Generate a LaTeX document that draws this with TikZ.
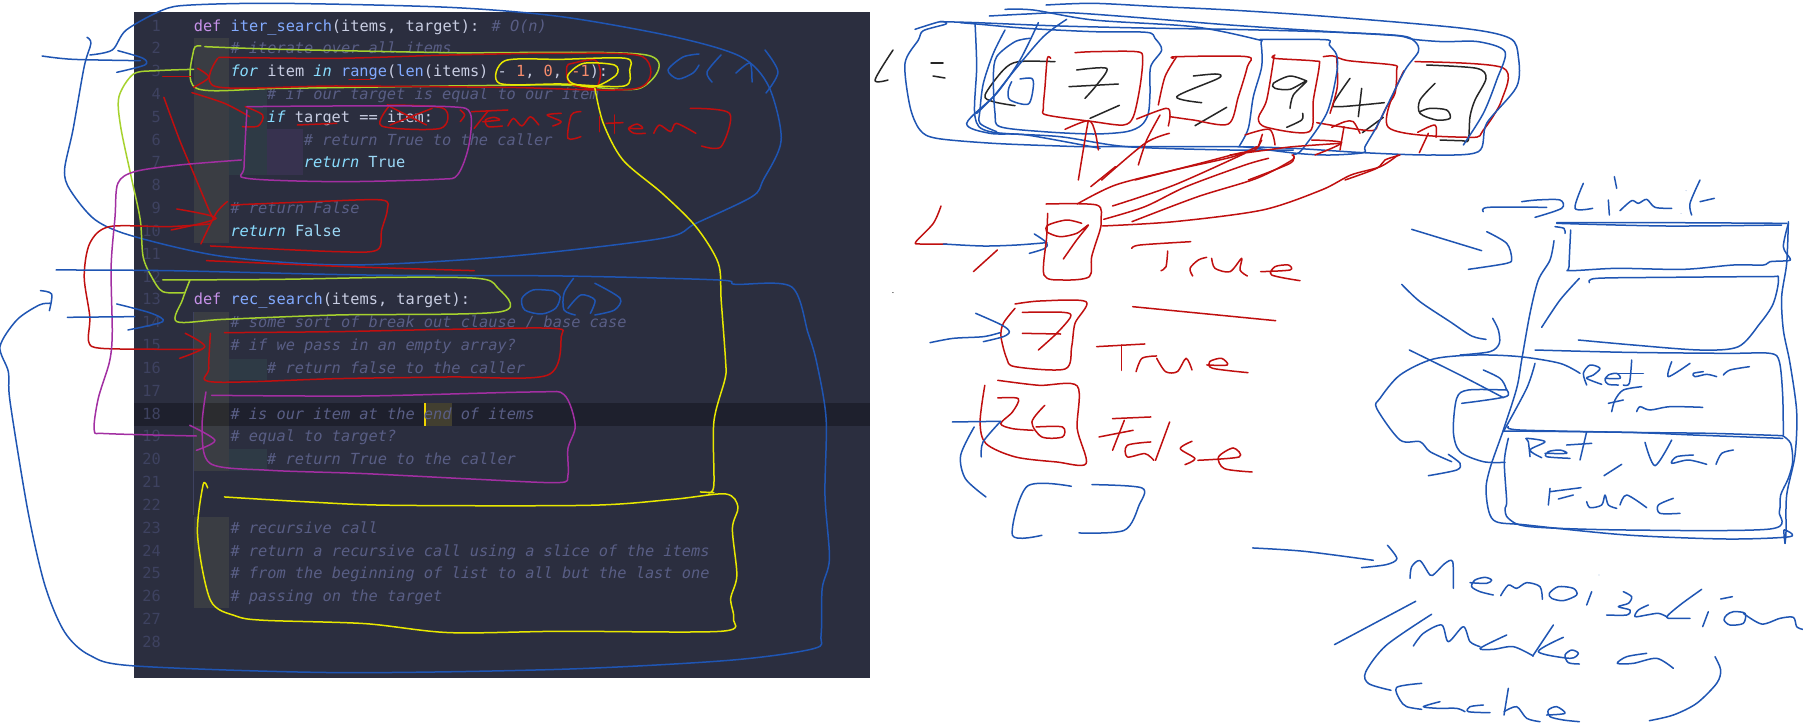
\documentclass[tikz,border=0pt]{standalone}
\usepackage{fontspec}
\newfontfamily\codefont{DejaVu Sans Mono}
\definecolor{panel}{HTML}{2B2E3F}
\definecolor{gut}{HTML}{3A3D43}
\definecolor{tl}{HTML}{2E3A45}
\definecolor{vi}{HTML}{37324F}
\definecolor{band}{HTML}{1E202D}
\definecolor{bandg}{HTML}{2B2C2F}
\definecolor{bandy}{HTML}{423F30}
\definecolor{cmt}{HTML}{595E85}
\definecolor{lno}{HTML}{3E4260}
\definecolor{kw}{HTML}{C792EA}
\definecolor{fn}{HTML}{82AAFF}
\definecolor{cy}{HTML}{89DDFF}
\definecolor{tx}{HTML}{C8CDE2}
\definecolor{num}{HTML}{F78C6C}
\definecolor{ink}{HTML}{1F55B3}
\definecolor{rd}{HTML}{C00F0F}
\definecolor{grn}{HTML}{A6D22E}
\definecolor{ylw}{HTML}{E8E800}
\definecolor{prp}{HTML}{A22FA2}
\tikzset{
 pen/.style={line width=1.5pt,line cap=round,line join=round},
 blu/.style={pen,draw=ink},
 red/.style={pen,draw=rd},
 gre/.style={pen,draw=grn},
 yel/.style={pen,draw=ylw},
 pur/.style={pen,draw=prp},
 bla/.style={pen,draw=black!85},
 codeline/.style={anchor=base west,inner sep=0pt,font=\codefont\fontsize{15.3}{18}\selectfont,text=tx},
 lineno/.style={anchor=base east,inner sep=0pt,font=\codefont\fontsize{15.3}{18}\selectfont,text=lno},
}
\newcommand\hs[2]{\draw[#1] plot[smooth,tension=0.5] coordinates {#2};}
\newcommand\hc[2]{\draw[#1] plot[smooth cycle,tension=0.5] coordinates {#2};}
\newcommand\codeln[3]{\node[codeline] (l#1) at ({193.6+9.18*#2},{31+22.83*(#1-1)}) {#3};}
\newcommand\numln[1]{\node[lineno] (n#1) at (161,{31+22.83*(#1-1)}) {#1};}
\newcommand\cmm[1]{\textcolor{cmt}{\itshape #1}}
\newcommand\kwd[1]{\textcolor{cy}{\itshape #1}}
\newcommand\bol[1]{\textcolor{cy!70!tx}{#1}}
\begin{document}
\begin{tikzpicture}[x=1pt,y=-1pt]
\useasboundingbox (0,0) rectangle (1803,724);
\fill[white] (0,0) rectangle (1803,724);
% panel
\fill[panel] (133.5,11.7) rectangle (870,677.5);
\fill[gut] (193.6,38) rectangle (229,243);
\fill[gut] (193.6,312) rectangle (229,471);
\fill[gut] (193.6,517) rectangle (229,608);
\fill[tl] (229,90) rectangle (266.5,175);
\fill[vi] (266.5,129) rectangle (303,175);
\fill[tl] (229,359) rectangle (266.5,380);
\fill[tl] (229,449) rectangle (266.5,471);
\fill[band] (133.5,403) rectangle (870,425.5);
\fill[bandy] (424.5,403) rectangle (451.5,425.5);
\fill[bandg] (193.6,403) rectangle (229,425.5);
\fill[ylw!80!orange] (424,403) rectangle (425.6,425.5);
\draw[lno,line width=1pt] (193.6,312) -- (193.6,515);
\foreach \k in {1,...,28} {\numln{\k}}
\codeln{1}{0}{\textcolor{kw}{def} \textcolor{fn}{iter\_search}(items, target): \cmm{\# O(n)}}
\codeln{2}{4}{\cmm{\# iterate over all items}}
\codeln{3}{4}{\kwd{for} item \kwd{in} \textcolor{fn}{range}(\textcolor{fn}{len}(items) - \textcolor{num}{1}, \textcolor{num}{0}, \textcolor{num}{-1}):}
\codeln{4}{8}{\cmm{\# if our target is equal to our item}}
\codeln{5}{8}{\kwd{if} target == item:}
\codeln{6}{12}{\cmm{\# return True to the caller}}
\codeln{7}{12}{\kwd{return} \bol{True}}
\codeln{9}{4}{\cmm{\# return False}}
\codeln{10}{4}{\kwd{return} \bol{False}}
\codeln{13}{0}{\textcolor{kw}{def} \textcolor{fn}{rec\_search}(items, target):}
\codeln{14}{4}{\cmm{\# some sort of break out clause / base case}}
\codeln{15}{4}{\cmm{\# if we pass in an empty array?}}
\codeln{16}{8}{\cmm{\# return false to the caller}}
\codeln{18}{4}{\cmm{\# is our item at the end of items}}
\codeln{19}{4}{\cmm{\# equal to target?}}
\codeln{20}{8}{\cmm{\# return True to the caller}}
\codeln{23}{4}{\cmm{\# recursive call}}
\codeln{24}{4}{\cmm{\# return a recursive call using a slice of the items}}
\codeln{25}{4}{\cmm{\# from the beginning of list to all but the last one}}
\codeln{26}{4}{\cmm{\# passing on the target}}
% O(n) first, real pixels
\hs{blu}{(699,54)(683,57)(668,70)(678,79)(693,73)(699,65)}
\hs{blu}{(721,55)(707,72)(712,82)}
\hs{blu}{(736,73)(750,63)(752,82)}
\hs{blu}{(765,50)(778,72)(766,93)}
% black L =
\hs{bla}{(893,50)(875,80)(888,80)}
\hs{bla}{(931,63)(943,63)}
\hs{bla}{(933,76)(945,78)}
% ===== left half annotations
\begin{scope}[xscale=0.5612,yscale=0.3333]
\hs{blu}{(160,165)(200,150)(225,90)(290,30)(340,15)(500,10)(800,22)(1000,50)(1200,110)(1320,170)(1370,260)(1392,420)(1360,540)(1340,590)(1240,670)(1180,715)(900,770)(620,795)(400,770)(240,710)(170,660)(125,570)(115,510)(130,390)(150,200)(162,130)(155,112)}
\hs{blu}{(75,168)(130,178)(250,182)}
\hs{blu}{(210,152)(255,175)(258,195)(208,217)}
% green
\hs{gre}{(365,140)(500,148)(800,158)(1152,165)(1140,265)(1000,255)(800,258)(500,265)(350,265)(345,150)(358,138)}
\hs{gre}{(345,208)(280,212)(238,222)(212,290)(215,380)(235,540)(250,660)(255,770)(270,830)(290,875)(330,878)}
\hs{gre}{(290,840)(500,838)(700,832)(850,835)(885,860)(893,935)(600,945)(400,958)(315,965)(325,900)(338,842)}
% red top
\hs{red}{(390,172)(600,175)(800,165)(1000,160)(1145,170)(1135,265)(900,262)(600,258)(385,260)(388,175)}
\hs{red}{(290,230)(340,230)}
\hs{red}{(352,205)(372,232)(345,262)}
\hs{red}{(622,238)(660,238)}
\hs{red}{(342,278)(400,310)(445,350)}
\hs{red}{(437,320)(468,345)(460,378)(432,380)}
\hs{red}{(292,292)(320,420)(345,520)(375,640)(382,655)}
\hs{red}{(315,627)(385,655)(305,690)}
\hs{red}{(405,605)(385,640)(358,732)}
\hs{red}{(412,615)(560,605)(680,600)(690,630)(680,690)(672,750)(600,755)(375,738)}
\hs{red}{(375,672)(300,680)(195,680)(160,730)(150,830)(160,950)(158,1025)(180,1045)(300,1048)(360,1048)}
\hs{red}{(330,1000)(365,1040)(320,1075)}
\hs{red}{(368,782)(620,800)(845,812)}
\hs{red}{(400,998)(600,995)(800,988)(985,985)(1000,1010)(975,1126)(800,1131)(600,1136)(380,1146)(372,1106)(375,1000)}
\hs{red}{(530,375)(600,370)}
% Items[item]
\hs{red}{(820,330)(828,345)(820,365)}
\hs{red}{(840,335)(905,330)}
\hs{red}{(870,332)(845,385)}
\hs{red}{(860,365)(890,360)(880,352)(865,360)(870,380)(895,378)}
\hs{red}{(905,378)(915,355)(930,378)(945,350)(960,375)}
\hs{red}{(1000,340)(975,345)(1000,365)(985,378)}
\hs{red}{(1035,335)(1018,345)(1012,415)(1035,410)}
\hs{red}{(1068,350)(1068,395)}
\hs{red}{(1095,345)(1095,400)}
\hs{red}{(1080,370)(1110,368)}
\hs{red}{(1120,385)(1145,385)(1135,372)(1120,385)(1130,400)(1150,400)}
\hs{red}{(1165,400)(1175,375)(1195,395)(1205,370)(1240,400)}
\hs{red}{(1230,325)(1300,340)(1285,440)(1250,438)}
\hs{red}{(690,315)(790,325)(785,385)(680,378)(695,315)}
\hs{red}{(695,320)(760,375)}
\hs{red}{(770,325)(695,375)}
\hc{red}{(1020,190)(1060,180)(1070,220)(1060,265)(1015,250)(1010,200)}
% yellow
\hc{yel}{(900,182)(1000,178)(1115,175)(1122,210)(1112,258)(1000,252)(890,250)}
\hc{yel}{(1040,190)(1095,195)(1098,225)(1060,260)(1020,250)(1012,225)}
\hs{yel}{(1060,265)(1075,370)(1110,480)(1180,580)(1240,680)(1280,790)(1285,900)(1293,1086)(1292,1136)(1272,1266)(1272,1456)(1262,1478)}
\hs{yel}{(1248,1476)(1272,1478)}
\hs{yel}{(400,1491)(550,1506)(700,1516)(1050,1516)(1200,1498)(1293,1482)(1315,1521)(1305,1586)(1313,1726)(1302,1796)(1307,1856)(1285,1894)(1000,1894)(800,1898)(650,1871)(470,1861)(420,1848)(375,1801)(352,1606)(362,1454)(370,1464)}
% purple
\hs{pur}{(440,320)(600,318)(800,320)(838,340)(835,440)(815,525)(780,538)(600,545)(440,535)(435,500)(440,330)}
\hs{pur}{(430,480)(320,495)(240,515)(210,550)(205,650)(198,800)(200,1000)(195,1086)(175,1196)(168,1291)(190,1301)(350,1308)}
\hs{pur}{(338,1276)(383,1321)(350,1351)}
\hs{pur}{(377,1186)(650,1188)(950,1176)(1005,1184)(1025,1276)(1012,1346)(1012,1426)(995,1448)(850,1438)(650,1421)(480,1411)(375,1391)(360,1286)(367,1176)}
% blue loop 2
\hs{blu}{(100,810)(300,812)(650,825)(1000,828)(1280,840)(1310,853)(1410,860)(1440,1000)(1455,1086)(1472,1256)(1470,1486)(1478,1676)(1465,1766)(1463,1906)(1450,1946)(1300,1981)(1000,2008)(600,2018)(240,1998)(160,1966)(115,1896)(80,1756)(50,1536)(18,1206)(15,1116)(0,1040)(30,960)(70,915)(90,910)}
\hs{blu}{(72,872)(92,882)(88,932)}
\hs{blu}{(120,952)(240,950)}
\hs{blu}{(208,912)(270,940)(290,965)(228,990)}
\hs{blu}{(985,872)(950,870)(930,895)(935,930)(965,942)(990,925)(998,890)(985,872)}
\hs{blu}{(1022,835)(1005,880)(1005,930)(1025,945)}
\hs{blu}{(1012,925)(1035,885)(1060,900)(1052,940)}
\hs{blu}{(1060,850)(1105,895)(1095,930)(1060,945)}
\end{scope}
% ===== top list, true 3x, origin (960,0)
\begin{scope}[shift={(960,0)},scale=0.33333]
\hs{bla}{(285,185)(175,185)(130,210)(75,285)(100,305)(165,317)}
\hs{bla}{(350,210)(440,205)(410,255)(375,295)}
\hs{bla}{(327,260)(475,252)}
\hs{bla}{(478,316)(390,355)}
\hs{bla}{(700,228)(770,222)(775,235)(650,290)(725,308)}
\hs{bla}{(800,322)(705,377)}
\hs{bla}{(1040,243)(990,228)(940,250)(945,265)(990,268)(1040,243)(1000,285)(990,325)}
\hs{bla}{(1028,340)(1025,360)(980,382)}
\hs{bla}{(1170,235)(1120,310)(1140,320)(1273,308)}
\hs{bla}{(1205,265)(1195,350)}
\hs{bla}{(1270,352)(1207,398)}
\hs{bla}{(1425,250)(1380,300)(1380,340)(1430,360)(1470,355)(1460,330)(1410,325)(1380,335)}
\hs{bla}{(1400,195)(1550,205)(1578,235)(1545,300)(1530,350)(1525,420)(1505,422)(1440,420)}
% red cells
\hs{red}{(345,158)(400,155)(530,155)(548,175)(540,260)(520,350)(490,375)(400,365)(260,345)(250,325)(255,260)(262,175)(272,175)}
\hs{red}{(640,175)(650,170)(860,170)(862,200)(835,290)(805,372)(700,360)(630,350)}
\hs{red}{(595,315)(615,230)(650,170)}
\hs{red}{(945,165)(943,175)(1065,183)(1078,195)(1060,300)(1048,395)(920,382)(895,355)(920,300)(942,170)}
\hs{red}{(1090,170)(1120,168)(1165,182)(1300,195)(1310,210)(1305,280)(1280,320)(1255,370)(1230,392)(1070,368)}
\hs{red}{(1130,175)(1132,260)(1110,340)}
\hs{red}{(1365,185)(1628,203)(1625,300)(1570,390)(1530,412)(1285,382)(1332,212)}
% blue lassos
\hs{blu}{(258,15)(400,10)(600,20)(810,30)(1110,50)(1510,85)(1650,115)(1675,170)(1670,260)(1580,370)(1555,455)(1410,465)(1210,458)(1000,445)(810,440)(400,440)(300,438)(100,430)(-70,415)(-120,390)(-150,320)(-165,190)(-125,120)(-110,92)(-42,72)(-60,65)(-135,88)}
\hs{blu}{(-60,65)(50,68)(300,78)(600,85)(810,88)(1110,96)(1320,107)(1365,125)(1375,155)(1335,210)(1280,320)(1250,380)(1215,440)(1210,458)(1110,465)(1010,460)(850,440)}
\hs{blu}{(135,28)(220,30)(400,60)(700,80)(890,118)(903,130)(905,200)(880,290)(865,385)(838,438)}
\hs{blu}{(88,48)(200,42)(320,38)(500,50)(810,75)(1110,95)(1310,107)(1360,118)(1450,125)(1555,125)(1635,155)(1610,240)(1570,340)(1510,435)}
\hs{blu}{(900,118)(1010,118)(1105,120)(1108,135)(1130,165)(1130,220)(1100,340)(1025,450)(1000,462)}
\hs{blu}{(0,68)(50,72)(200,85)(400,95)(560,97)(585,115)(605,150)(572,200)(570,280)(565,340)(545,375)(500,395)(400,402)(250,395)(120,380)(105,340)(100,230)(110,170)(165,125)(210,115)}
\hs{blu}{(45,68)(50,200)(45,350)(90,395)(300,410)(500,440)(810,450)(1000,450)}
\hs{blu}{(235,68)(180,180)(110,280)(20,370)(90,400)(200,405)(420,445)}
\hs{blu}{(320,58)(250,110)(160,215)(100,290)(50,340)}
\hs{blu}{(135,90)(100,160)(70,250)(60,330)(60,370)(110,395)}
\hs{blu}{(155,245)(145,270)(150,300)(205,312)(220,260)(215,235)(180,237)}
% red arrows into list
\hs{red}{(355,540)(378,400)(385,362)}
\hs{red}{(315,388)(385,362)(405,395)(415,450)}
\hs{red}{(425,540)(555,430)(628,400)}
\hs{red}{(530,357)(618,325)(630,345)(625,378)}
\hs{red}{(535,495)(560,420)(600,345)}
\hs{red}{(855,405)(928,388)(945,435)}
\hs{red}{(895,440)(907,403)}
\hs{red}{(525,540)(720,490)(835,460)(885,450)(905,420)}
\hs{red}{(1055,420)(1145,428)(1065,465)}
\hs{red}{(810,465)(920,450)(1000,440)(1140,430)}
\hs{red}{(1152,380)(1140,450)}
\hs{red}{(1115,382)(1155,365)(1180,365)(1200,400)}
\hs{red}{(1155,540)(1250,505)(1275,480)(1320,465)}
\hs{red}{(1378,458)(1405,400)}
\hs{red}{(1373,397)(1425,375)(1428,412)}
\hs{red}{(865,540)(990,490)(1000,465)}
\end{scope}
% ===== right scope (first reading)
\begin{scope}[shift={(880,0)},xscale=0.5887,yscale=0.3333]
\hs{red}{(335,612)(400,555)(500,510)(600,470)(640,440)}
\hs{red}{(395,618)(500,555)(620,460)}
\hs{red}{(380,658)(450,620)(520,560)(620,495)(660,475)}
\hs{red}{(428,665)(540,590)(640,535)(700,480)(700,465)}
\hs{red}{(378,678)(500,665)(650,630)(750,570)(800,525)(850,500)(880,465)}
\hs{red}{(358,560)(400,500)}
\fill[black!85] (22,878) circle (1.3pt);
\hs{red}{(368,1040)(450,1032)}
\hs{red}{(410,1035)(410,1111)}
\hs{red}{(435,1115)(445,1075)(470,1068)}
\hs{red}{(470,1075)(485,1115)(505,1115)(520,1075)(530,1110)}
\hs{red}{(555,1095)(590,1095)(580,1075)(560,1085)(565,1105)(625,1118)}
% 26
\hs{red}{(200,1141)(270,1156)(335,1158)(335,1286)(350,1391)(300,1386)(230,1371)(180,1331)(170,1266)(178,1156)}
\hs{red}{(200,1194)(235,1196)(225,1236)(205,1271)(225,1286)(260,1291)}
\hs{red}{(280,1216)(258,1266)(275,1311)(310,1311)(310,1281)(265,1281)}
\hs{red}{(395,1256)(460,1251)}
\hs{red}{(415,1261)(395,1351)}
\hs{red}{(372,1311)(430,1291)}
\hs{red}{(460,1326)(420,1336)(420,1371)(450,1361)(465,1381)}
\hs{red}{(492,1266)(468,1381)}
\hs{red}{(530,1324)(510,1346)(535,1376)(518,1394)}
\hs{red}{(540,1381)(610,1371)(600,1344)(575,1371)(585,1406)(632,1416)}
\hs{blu}{(123,1266)(205,1264)}
\hs{blu}{(205,1264)(175,1326)(172,1371)}
\hs{blu}{(160,1281)(137,1366)(145,1436)(180,1491)}
\hs{blu}{(325,1459)(250,1459)(225,1606)(275,1606)}
\hs{blu}{(360,1454)(445,1464)(440,1516)(415,1591)(338,1599)}
% memo arrow and left of parens
\hs{blu}{(633,1644)(720,1654)(838,1681)}
\hs{blu}{(862,1636)(878,1676)(860,1694)(818,1703)}
\hs{blu}{(910,1804)(772,1934)}
\hs{blu}{(937,1843)(860,1936)(825,2016)(830,2051)(868,2071)}
\end{scope}
% ===== i at 9 box, True, 7, true 3x, origin (900,170)
\begin{scope}[shift={(900,170)},scale=0.33333]
\hs{red}{(123,108)(100,160)(48,215)(60,222)(140,222)}
\hs{blu}{(130,222)(250,228)(350,225)(440,218)}
\hs{blu}{(403,192)(440,218)(435,235)(388,250)}
\hs{red}{(292,240)(220,305)}
\hs{red}{(438,102)(590,105)(603,150)(600,180)(575,260)(568,320)(490,330)(432,315)(440,200)(443,130)}
\hs{red}{(545,160)(500,150)(445,165)(440,185)(480,200)(530,190)(565,165)(530,210)(490,267)}
\hs{red}{(695,235)(720,225)(872,215)}
\hs{red}{(803,243)(798,290)(783,302)}
\hs{red}{(878,318)(870,295)(895,270)(920,262)}
\hs{red}{(935,265)(945,295)(990,305)(1025,265)(1020,300)(1042,318)}
\hs{red}{(1082,305)(1170,300)(1165,285)(1125,290)(1115,315)(1200,332)}
\hs{red}{(698,410)(1127,452)}
\hs{red}{(345,402)(420,393)(558,395)(525,460)(515,530)(495,597)(345,590)(320,565)(303,500)(310,460)(345,415)}
\hs{red}{(367,427)(490,427)(512,440)(470,490)(415,540)}
\hs{red}{(367,490)(482,492)}
\hs{blu}{(90,518)(160,505)(250,500)(300,488)}
\hs{blu}{(227,430)(305,465)(328,485)(310,500)(250,515)}
\end{scope}
% ===== stack, true 3x, origin (1400,180)
\begin{scope}[shift={(1400,180)},scale=0.33333]
\hs{blu}{(250,95)(265,82)(440,82)}
\hs{blu}{(365,65)(410,60)(480,60)(485,85)(405,112)}
\hs{blu}{(550,10)(525,85)(578,85)}
\hs{blu}{(625,60)(628,105)}
\hs{blu}{(643,-10)(650,25)}
\hs{blu}{(660,92)(695,62)(715,70)(740,58)(765,82)(815,85)}
\fill[ink] (858,32) circle (1pt) (843,100) circle (1pt);
\hs{blu}{(900,0)(870,70)(875,105)}
\hs{blu}{(900,65)(943,55)}
\hs{blu}{(470,128)(800,128)(1160,130)}
\hs{blu}{(470,130)(800,138)(1145,135)}
\hs{blu}{(465,140)(492,145)(495,160)}
\hs{blu}{(512,150)(507,260)(510,272)(650,265)(850,268)(1000,255)(1090,255)(1110,245)(1165,242)(1170,235)(1150,200)(1165,130)}
\hs{blu}{(1165,125)(1160,250)(1145,350)(1150,450)(1170,550)(1190,695)(1185,825)(1160,945)(1158,1055)(1155,1090)}
\hs{blu}{(462,182)(450,240)(415,300)(390,400)(365,540)(350,625)(310,750)(270,865)(258,935)(280,1020)(380,1035)(680,1065)(980,1077)(1170,1070)(1152,1050)(1155,1090)}
\hs{blu}{(568,308)(590,295)(800,292)(1100,290)(1135,295)(1120,370)(1080,430)(1015,500)(900,510)(700,495)(535,480)}
\hs{blu}{(538,295)(480,360)(425,442)}
\hs{blu}{(405,510)(680,517)(980,520)(1110,520)(1138,545)(1148,645)(1150,765)}
\hs{blu}{(405,550)(380,625)(310,755)}
\hs{blu}{(325,740)(360,750)(680,757)(930,760)(1148,767)}
\hs{blu}{(310,753)(680,757)(880,765)(1148,775)}
\hs{blu}{(325,775)(313,845)(320,965)(315,985)(325,1015)(390,1040)(680,1050)(1110,1047)(1138,995)(1142,945)(1165,895)(1178,845)(1172,790)(1148,767)}
\hs{blu}{(35,148)(245,212)}
\hs{blu}{(260,155)(320,190)(335,235)(320,250)(205,268)}
\hs{blu}{(5,313)(60,365)(150,425)(215,468)(258,478)}
\hs{blu}{(278,415)(295,450)(298,490)(270,515)(180,525)}
\hs{blu}{(28,510)(180,585)(310,653)}
\hs{blu}{(250,570)(300,595)(318,625)(317,650)(185,670)}
\hs{blu}{(318,630)(205,630)(170,655)(160,755)(180,815)(250,845)(315,847)}
\hs{blu}{(540,580)(480,550)(360,530)(230,525)(100,537)(0,585)(-60,655)(-70,685)(0,780)(60,785)(90,815)(155,845)}
\hs{blu}{(145,823)(180,850)(170,870)(85,887)}
% Ret Var fn
\hs{blu}{(560,615)(550,580)(570,555)(600,565)(580,585)(560,595)(605,613)}
\hs{blu}{(615,595)(660,595)(650,580)(625,585)(615,600)(625,613)(655,615)}
\hs{blu}{(695,540)(688,610)(670,615)}
\hs{blu}{(645,580)(730,580)}
\hs{blu}{(815,545)(805,590)(870,550)}
\hs{blu}{(910,575)(880,580)(885,590)(920,583)(950,590)}
\hs{blu}{(970,585)(990,570)(1048,560)}
\hs{blu}{(725,620)(670,630)(645,660)(635,695)}
\hs{blu}{(625,670)(670,660)}
\hs{blu}{(710,695)(720,680)(750,690)(810,680)(908,682)}
% Ret Var Func
\hs{blu}{(390,830)(385,785)(380,775)(435,785)(390,810)(425,833)}
\hs{blu}{(435,820)(500,820)(480,810)(445,815)(440,830)(510,835)}
\hs{blu}{(560,755)(540,840)}
\hs{blu}{(500,795)(575,790)}
\hs{blu}{(665,853)(612,887)}
\hs{blu}{(735,787)(765,857)(815,780)}
\hs{blu}{(880,825)(830,830)(815,850)(865,840)(920,853)}
\hs{blu}{(948,853)(965,820)(1000,810)}
\hs{blu}{(543,923)(450,935)}
\hs{blu}{(450,925)(445,975)}
\hs{blu}{(475,957)(520,945)}
\hs{blu}{(560,965)(570,983)(605,975)(615,945)(625,975)(650,985)}
\hs{blu}{(660,975)(680,945)(740,983)}
\hs{blu}{(820,955)(775,975)(780,1000)(840,1000)}
\end{scope}
% ===== memoization, true 3x, origin (1380,530)
\begin{scope}[shift={(1380,530)},scale=0.33333]
\hs{blu}{(90,145)(95,110)(120,92)(150,135)(165,130)(195,100)(218,95)(220,175)}
\hs{blu}{(270,158)(320,160)(335,150)(315,142)(285,150)(275,170)(300,185)(340,195)}
\hs{blu}{(362,197)(385,165)(410,175)(440,158)(480,170)(487,208)}
\hc{blu}{(535,170)(580,175)(590,195)(550,212)(515,205)(508,190)}
\hs{blu}{(635,185)(620,225)}
\fill[ink] (657,135) circle (1pt);
\hs{blu}{(730,185)(755,200)(745,220)(715,230)(750,240)(740,255)(680,255)}
\hs{blu}{(805,225)(775,240)(765,260)(800,255)(835,250)(860,260)}
\hs{blu}{(965,178)(900,225)(860,262)(900,265)(930,265)}
\hs{blu}{(985,245)(968,290)}
\hs{blu}{(1022,207)(1057,200)}
\hc{blu}{(1060,245)(1095,250)(1090,280)(1050,285)(1032,270)(1040,255)}
\hs{blu}{(1090,250)(1145,282)(1200,265)(1240,262)(1250,290)(1268,298)}
\hs{blu}{(100,348)(130,310)(185,285)(205,335)(250,290)(270,335)(300,350)}
\hs{blu}{(380,315)(300,355)(340,358)(400,350)(460,378)}
\hs{blu}{(520,285)(458,378)}
\hs{blu}{(550,322)(475,365)(570,385)(595,370)(575,360)(555,375)(565,398)(598,402)}
\hs{blu}{(800,370)(740,380)(712,400)(760,400)(830,385)(880,415)}
\hs{blu}{(1005,380)(1022,420)(1010,460)(950,520)(880,555)(808,572)}
\hs{blu}{(125,460)(50,472)(60,510)(80,530)(125,538)}
\hs{blu}{(180,515)(130,530)(175,535)(230,535)(255,545)}
\hs{blu}{(310,525)(270,530)(265,545)(330,548)}
\hs{blu}{(385,475)(372,555)}
\hs{blu}{(372,545)(410,530)(440,565)(480,575)}
\hs{blu}{(500,555)(555,550)(530,530)(505,540)(510,560)(550,570)(598,575)}
\end{scope}
\end{tikzpicture}
\end{document}
